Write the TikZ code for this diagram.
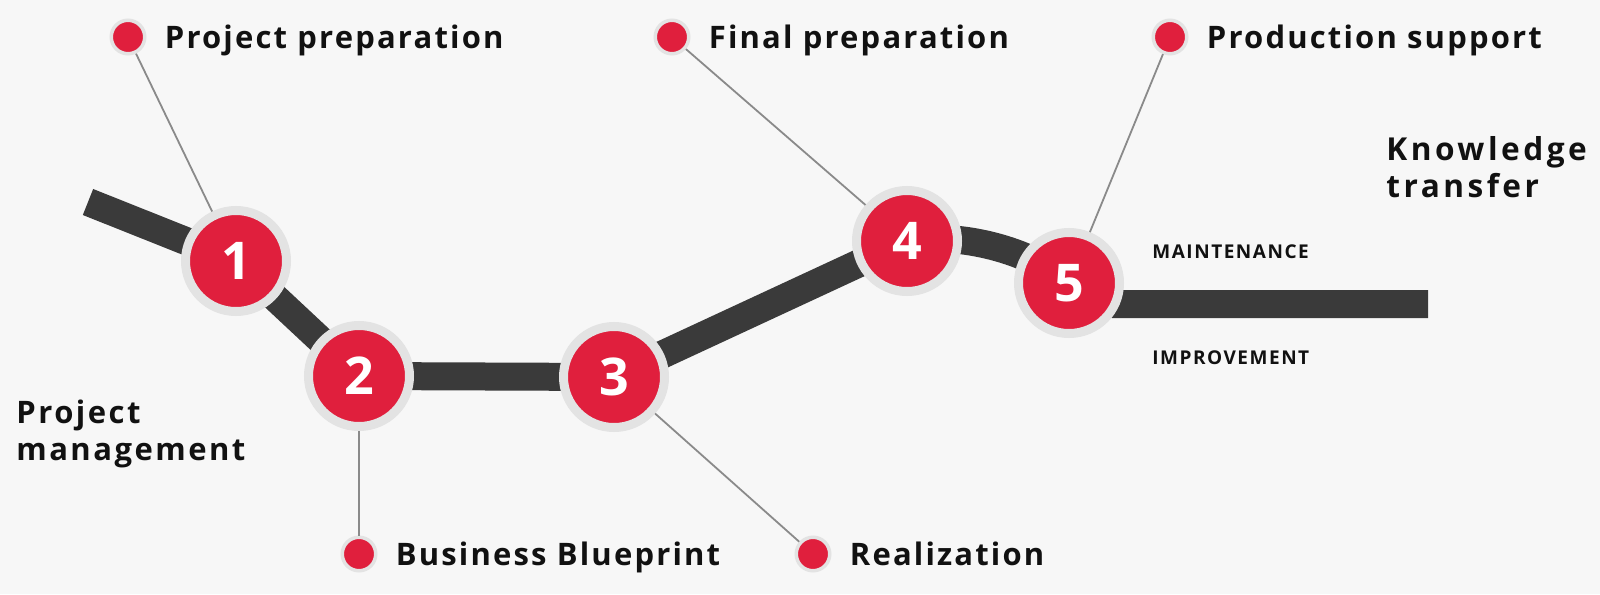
\documentclass[tikz,border=0pt]{standalone}
\usepackage{fontspec}
\setmainfont{Open Sans}
\usetikzlibrary{positioning}
\definecolor{stepred}{HTML}{E01F3D}
\definecolor{ringgray}{HTML}{E3E3E3}
\definecolor{trackgray}{HTML}{3A3A3A}
\definecolor{pingray}{HTML}{8A8A8A}
\definecolor{paper}{HTML}{F7F7F7}
\definecolor{ink}{HTML}{111111}
\tikzset{
  bignum/.style={circle, fill=stepred, draw=ringgray, line width=4.5pt,
    minimum size=50.5pt, inner sep=0pt, text=white,
    font=\fontsize{26}{26}\selectfont\bfseries},
  dot/.style={circle, fill=stepred, draw=ringgray, line width=1.75pt,
    minimum size=16.75pt, inner sep=0pt},
  phase/.style={font=\fontsize{15.5}{18.5}\selectfont\bfseries\addfontfeature{LetterSpace=7}, text=ink,
    inner sep=0pt, text height=11pt, text depth=0pt},
  heading/.style={font=\fontsize{15.5}{18.5}\selectfont\bfseries\addfontfeature{LetterSpace=8}, text=ink,
    inner sep=0pt, align=left, anchor=west},
  wideheading/.style={heading, font=\fontsize{15.8}{18.5}\selectfont\bfseries\addfontfeature{LetterSpace=11}},
  caps/.style={font=\fontsize{9.5}{11}\selectfont\bfseries\addfontfeature{LetterSpace=8}, text=ink,
    inner sep=0pt, anchor=west},
  track/.style={draw=trackgray, line width=14pt, line cap=butt, line join=round},
  pin/.style={draw=pingray, line width=0.9pt}
}
\begin{document}
\begin{tikzpicture}[x=0.5pt, y=-0.5pt]
\fill[paper] (0,0) rectangle (1600,594);
\useasboundingbox (0,0) rectangle (1600,594);
% track
\coordinate (s0) at (88,202);
\coordinate (p1) at (236,261);
\coordinate (p2) at (359,376);
\coordinate (p3) at (614,377);
\coordinate (p4) at (907,241);
\coordinate (p5) at (1069,283);
\coordinate (e0) at (1428,304);
\draw[track] (s0) -- (p1) -- (p2) -- (p3) -- (p4)
  .. controls (960,232) and (1030,250) .. (p5)
  .. controls (1080,302) .. (1112,304) -- (e0);
% steps
\node[bignum] (n1) at (p1) {1};
\node[bignum] (n2) at (p2) {2};
\node[bignum] (n3) at (p3) {3};
\node[bignum] (n4) at (p4) {4};
\node[bignum] (n5) at (p5) {5};
% phase dots
\node[dot] (d1) at (128,37) {};
\node[dot] (d2) at (359,554) {};
\node[dot] (d3) at (813,554) {};
\node[dot] (d4) at (672,37) {};
\node[dot] (d5) at (1170,37) {};
\node[phase, right=9pt of d1] (l1) {Project preparation};
\node[phase, right=9pt of d2] (l2) {Business Blueprint};
\node[phase, right=9pt of d3] (l3) {Realization};
\node[phase, right=9pt of d4] (l4) {Final preparation};
\node[phase, right=9pt of d5] (l5) {Production support};
\draw[pin] (d1) to (n1);
\draw[pin] (d2) to (n2);
\draw[pin] (d3) to (n3);
\draw[pin] (d4) to (n4);
\draw[pin] (d5) to (n5);
% side texts
\node[heading] (pm) at (16,434) {Project\\management};
\node[wideheading] (kt) at (1386,167) {Knowledge\\transfer};
\node[caps] (mt) at (1152,252) {MAINTENANCE};
\node[caps] (im) at (1152,358) {IMPROVEMENT};
\end{tikzpicture}
\end{document}
